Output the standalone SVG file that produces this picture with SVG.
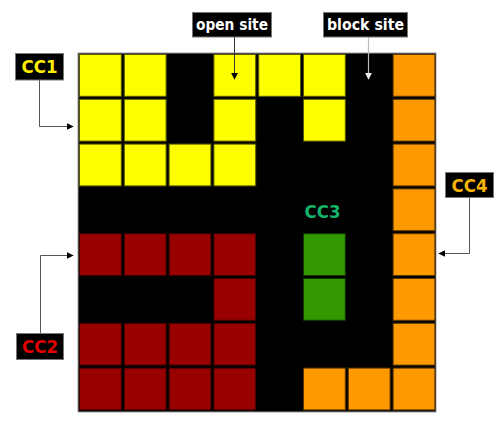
<svg xmlns="http://www.w3.org/2000/svg" width="500" height="421" viewBox="0 0 500 421">
<defs>
<style>
.y{fill:#ffff00;stroke:#5a5a00;stroke-width:1}
.r{fill:#990000;stroke:#3a0000;stroke-width:1}
.o{fill:#ff9900;stroke:#5a3600;stroke-width:1}
.g{fill:#339900;stroke:#123800;stroke-width:1}
.box{fill:#000;stroke:#777;stroke-width:1}
.t{font-family:"DejaVu Sans","Liberation Sans",sans-serif;font-weight:bold;text-anchor:middle}
.conn{fill:none;stroke:#555;stroke-width:1}
</style>
<marker id="ah" viewBox="0 0 10 10" refX="9" refY="5" markerWidth="7" markerHeight="7" orient="auto" markerUnits="userSpaceOnUse"><path d="M0,0 L10,5 L0,10 z" fill="#000"/></marker>
<marker id="ahw" viewBox="0 0 10 10" refX="9" refY="5" markerWidth="7" markerHeight="7" orient="auto" markerUnits="userSpaceOnUse"><path d="M0,0 L10,5 L0,10 z" fill="#eee"/></marker>
</defs>
<rect width="500" height="421" fill="#fff"/>
<g id="grid">
<rect x="78" y="53" width="358" height="359" fill="#000" stroke="#999" stroke-width="1"/>
<rect class="y" x="79.5" y="54.5" width="41.8" height="41.8"/>
<rect class="y" x="124.3" y="54.5" width="41.8" height="41.8"/>
<rect class="y" x="213.9" y="54.5" width="41.8" height="41.8"/>
<rect class="y" x="258.7" y="54.5" width="41.8" height="41.8"/>
<rect class="y" x="303.5" y="54.5" width="41.8" height="41.8"/>
<rect class="o" x="393.1" y="54.5" width="41.8" height="41.8"/>
<rect class="y" x="79.5" y="99.3" width="41.8" height="41.8"/>
<rect class="y" x="124.3" y="99.3" width="41.8" height="41.8"/>
<rect class="y" x="213.9" y="99.3" width="41.8" height="41.8"/>
<rect class="y" x="303.5" y="99.3" width="41.8" height="41.8"/>
<rect class="o" x="393.1" y="99.3" width="41.8" height="41.8"/>
<rect class="y" x="79.5" y="144.1" width="41.8" height="41.8"/>
<rect class="y" x="124.3" y="144.1" width="41.8" height="41.8"/>
<rect class="y" x="169.1" y="144.1" width="41.8" height="41.8"/>
<rect class="y" x="213.9" y="144.1" width="41.8" height="41.8"/>
<rect class="o" x="393.1" y="144.1" width="41.8" height="41.8"/>
<rect class="o" x="393.1" y="188.9" width="41.8" height="41.8"/>
<rect class="r" x="79.5" y="233.7" width="41.8" height="41.8"/>
<rect class="r" x="124.3" y="233.7" width="41.8" height="41.8"/>
<rect class="r" x="169.1" y="233.7" width="41.8" height="41.8"/>
<rect class="r" x="213.9" y="233.7" width="41.8" height="41.8"/>
<rect class="g" x="303.5" y="233.7" width="41.8" height="41.8"/>
<rect class="o" x="393.1" y="233.7" width="41.8" height="41.8"/>
<rect class="r" x="213.9" y="278.5" width="41.8" height="41.8"/>
<rect class="g" x="303.5" y="278.5" width="41.8" height="41.8"/>
<rect class="o" x="393.1" y="278.5" width="41.8" height="41.8"/>
<rect class="r" x="79.5" y="323.3" width="41.8" height="41.8"/>
<rect class="r" x="124.3" y="323.3" width="41.8" height="41.8"/>
<rect class="r" x="169.1" y="323.3" width="41.8" height="41.8"/>
<rect class="r" x="213.9" y="323.3" width="41.8" height="41.8"/>
<rect class="o" x="393.1" y="323.3" width="41.8" height="41.8"/>
<rect class="r" x="79.5" y="368.1" width="41.8" height="41.8"/>
<rect class="r" x="124.3" y="368.1" width="41.8" height="41.8"/>
<rect class="r" x="169.1" y="368.1" width="41.8" height="41.8"/>
<rect class="r" x="213.9" y="368.1" width="41.8" height="41.8"/>
<rect class="o" x="303.5" y="368.1" width="41.8" height="41.8"/>
<rect class="o" x="348.3" y="368.1" width="41.8" height="41.8"/>
<rect class="o" x="393.1" y="368.1" width="41.8" height="41.8"/>
</g>
<g id="connectors">
<path d="M234.5,37 V79" fill="none" stroke="#333" stroke-width="1" marker-end="url(#ah)"/>
<path d="M368.5,37 V79" fill="none" stroke="#bbb" stroke-width="1.2" marker-end="url(#ahw)"/>
<path class="conn" d="M39.5,80 V126.5 H73" marker-end="url(#ah)"/>
<path class="conn" d="M40.5,333 V255.5 H73" marker-end="url(#ah)"/>
<path class="conn" d="M469.5,197 V253.5 H439" marker-end="url(#ah)"/>
</g>
<g id="label-open-site">
<rect class="box" x="192.5" y="12.5" width="79" height="24.5"/>
<text class="t" x="232" y="30" font-size="16" fill="#fff" textLength="72" lengthAdjust="spacingAndGlyphs">open site</text>
</g>
<g id="label-block-site">
<rect class="box" x="323.5" y="12.5" width="84" height="24.5"/>
<text class="t" x="365.5" y="30" font-size="16" fill="#fff" textLength="77" lengthAdjust="spacingAndGlyphs">block site</text>
</g>
<g id="label-cc1">
<rect class="box" x="15.5" y="53.5" width="48" height="26.5"/>
<text class="t" x="39.5" y="73" font-size="17" fill="#ffee00" textLength="36" lengthAdjust="spacingAndGlyphs">CC1</text>
</g>
<g id="label-cc2">
<rect class="box" x="16.5" y="333.5" width="47" height="26"/>
<text class="t" x="40" y="352.5" font-size="17" fill="#e00000" textLength="36" lengthAdjust="spacingAndGlyphs">CC2</text>
</g>
<g id="label-cc4">
<rect class="box" x="445.5" y="172.5" width="48" height="25"/>
<text class="t" x="469.5" y="191.5" font-size="17" fill="#f5b400" textLength="36" lengthAdjust="spacingAndGlyphs">CC4</text>
</g>
<g id="label-cc3">
<text class="t" x="322.5" y="218" font-size="17" fill="#12b36a" textLength="36" lengthAdjust="spacingAndGlyphs">CC3</text>
</g>
</svg>
